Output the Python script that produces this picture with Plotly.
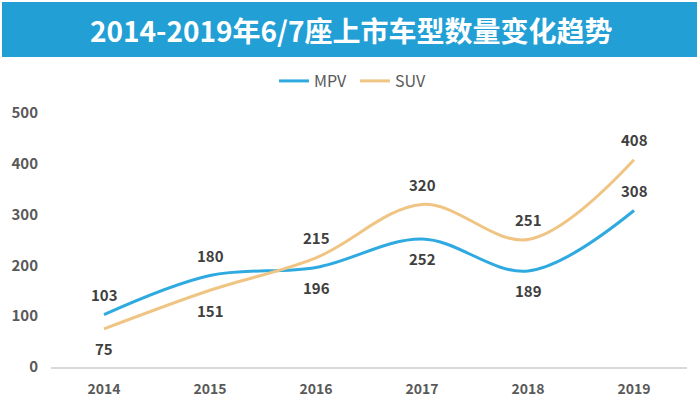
import plotly.graph_objects as go

years = ["2014", "2015", "2016", "2017", "2018", "2019"]
mpv = [103, 180, 196, 252, 189, 308]
suv = [75, 151, 215, 320, 251, 408]
mpv_label_pos = ["above", "above", "below", "below", "below", "above"]
suv_label_pos = ["below", "below", "above", "above", "above", "above"]
y_ticks = [0, 100, 200, 300, 400, 500]

title_text = "2014-2019年6/7座上市车型数量变化趋势"

MPV_COLOR = "#2FAAE0"
SUV_COLOR = "#F0C584"
LABEL_COLOR = "#404040"
FONT = "Noto Sans CJK SC, Open Sans, sans-serif"

fig = go.Figure()
fig.add_trace(go.Scatter(x=years, y=mpv, name="MPV", mode="lines",
                         line=dict(color=MPV_COLOR, width=3, shape="spline", smoothing=1)))
fig.add_trace(go.Scatter(x=years, y=suv, name="SUV", mode="lines",
                         line=dict(color=SUV_COLOR, width=3, shape="spline", smoothing=1)))

annotations = []
for series, positions in ((mpv, mpv_label_pos), (suv, suv_label_pos)):
    for i, (v, p) in enumerate(zip(series, positions)):
        annotations.append(dict(x=i, y=v, xref="x", yref="y", text=f"<b>{v}</b>",
                                showarrow=False, yshift=20 if p == "above" else -20,
                                font=dict(size=15, color=LABEL_COLOR, family=FONT)))

# plot area: x 51..687, y 113..367 px
L, R, T, B = 51, 687, 113, 367
W, H = R - L, B - T
def px_x(p):
    return (p - L) / W
def px_y(p):
    return (B - p) / H

annotations.append(dict(x=px_x(351), y=px_y(30), xref="paper", yref="paper",
                        text=f"<b>{title_text}</b>", showarrow=False,
                        xanchor="center", yanchor="middle",
                        font=dict(size=28, color="white", family=FONT)))

fig.update_layout(
    width=700, height=406,
    margin=dict(l=L, r=700 - R, t=T, b=406 - B, autoexpand=False),
    paper_bgcolor="white", plot_bgcolor="white",
    font=dict(family=FONT, color="#595959"),
    showlegend=True,
    legend=dict(orientation="h", xref="paper", yref="paper",
                x=px_x(355), y=px_y(81), xanchor="center", yanchor="middle",
                font=dict(size=16, color="#595959"), itemwidth=30,
                entrywidth=36, entrywidthmode="pixels",
                bgcolor="rgba(0,0,0,0)"),
    shapes=[dict(type="rect", xref="paper", yref="paper",
                 x0=px_x(2), x1=px_x(697), y0=px_y(57), y1=px_y(2),
                 fillcolor="#22A0D6", line=dict(width=0), layer="below")],
    annotations=annotations,
    xaxis=dict(type="category", range=[-0.5, len(years) - 0.5], automargin=False,
               showgrid=False, showline=True, linecolor="#D9D9D9",
               linewidth=1.5, ticks="",
               tickfont=dict(size=14, color="#595959", family=FONT, weight="bold"),
               ticklabelstandoff=8),
    yaxis=dict(range=[0, 500], tickvals=y_ticks, showgrid=False, zeroline=False,
               showline=False, ticks="", automargin=False,
               tickfont=dict(size=15, color="#595959", family=FONT, weight="bold"),
               ticklabelstandoff=12),
)

fig.write_html("out.html")
